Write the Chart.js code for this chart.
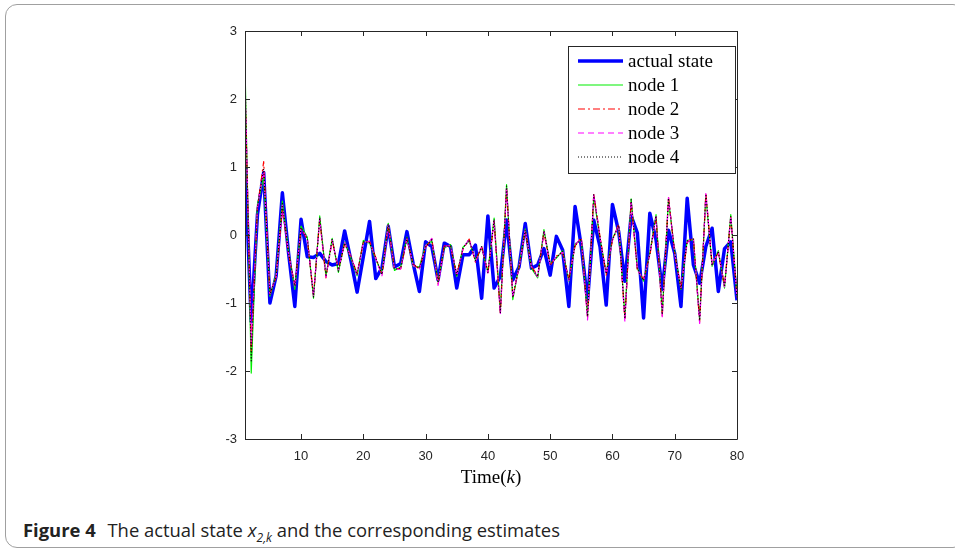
<!DOCTYPE html>
<html>
<head>
<meta charset="utf-8">
<script src="https://cdn.jsdelivr.net/npm/chart.js@4/dist/chart.umd.min.js"></script>
<style>
  html, body { margin: 0; padding: 0; background: #fff; }
  body { width: 955px; height: 555px; position: relative; overflow: hidden; }
  #frame { position: absolute; left: 5px; top: 4px; width: 960px; height: 544px;
           border: 1px solid #a0a0a0; border-radius: 12px; box-sizing: border-box; }
  #chart { position: absolute; left: 0; top: 0; }
  #caption { position: absolute; left: 23px; top: 517px; font-family: "Open Sans", "Noto Sans", sans-serif;
             font-size: 18.4px; color: #222; white-space: nowrap; }
  #caption b { font-weight: 700; margin-right: 7px; }
  #caption i sub { font-size: 12px; }
</style>
</head>
<body>
<div id="frame"></div>
<canvas id="chart" width="955" height="490"></canvas>
<div id="caption"><b>Figure 4</b> The actual state <i>x<sub>2,k</sub></i> and the corresponding estimates</div>
<script>
const timeK = [1,2,3,4,5,6,7,8,9,10,11,12,13,14,15,16,17,18,19,20,
  21,22,23,24,25,26,27,28,29,30,31,32,33,34,35,36,37,38,39,40,
  41,42,43,44,45,46,47,48,49,50,51,52,53,54,55,56,57,58,59,60,
  61,62,63,64,65,66,67,68,69,70,71,72,73,74,75,76,77,78,79,80];
const xTickValues = [10,20,30,40,50,60,70,80];
const yTickValues = [-3,-2,-1,0,1,2,3];

const actualState = [1.08,-1.27,0.3,0.92,-1.0,-0.6,0.62,-0.27,-1.05,0.23,
  -0.32,-0.33,-0.27,-0.39,-0.44,-0.42,0.06,-0.37,-0.84,-0.32,
  0.2,-0.64,-0.48,0.13,-0.47,-0.42,0.05,-0.42,-0.83,-0.1,
  -0.17,-0.66,-0.12,-0.17,-0.78,-0.29,-0.29,-0.15,-0.93,0.28,
  -0.78,-0.61,0.22,-0.66,-0.47,0.17,-0.49,-0.44,-0.2,-0.59,
  -0.02,-0.22,-1.05,0.42,-0.17,-0.97,0.22,-0.17,-1.03,0.45,
  0.05,-0.68,0.28,0.03,-1.22,0.32,-0.07,-0.8,0.07,-0.27,
  -1.05,0.54,-0.44,-0.71,-0.17,0.1,-0.83,-0.2,-0.1,-0.96];

const node1 = [2.5,-2.03,0.45,0.85,-0.9,-0.58,0.5,-0.25,-0.8,0.13,
  -0.03,-0.93,0.28,-0.6,-0.05,-0.55,-0.1,-0.34,-0.6,-0.08,
  -0.12,-0.36,-0.56,0.17,-0.52,-0.47,-0.03,-0.46,-0.47,-0.15,
  -0.09,-0.69,-0.19,-0.14,-0.61,-0.18,-0.09,-0.37,-0.19,-0.54,
  0.25,-1.12,0.74,-0.95,-0.45,0.09,-0.49,-0.63,0.08,-0.42,
  -0.34,-0.23,-0.68,-0.13,-0.07,-1.18,0.56,-0.05,-0.56,-0.05,
  0.13,-1.2,0.53,-0.49,-0.68,-0.27,0.3,-1.15,0.52,-0.25,
  -0.8,-0.08,-0.07,-1.24,0.58,-0.46,-0.23,-0.78,0.3,-0.89];

const node2 = [2.2,-1.7,0.4,1.08,-0.86,-0.62,0.38,-0.28,-0.74,0.09,
  -0.06,-0.88,0.23,-0.63,-0.08,-0.5,-0.13,-0.31,-0.57,-0.11,
  -0.09,-0.33,-0.59,0.14,-0.49,-0.5,-0.06,-0.43,-0.5,-0.18,
  -0.06,-0.72,-0.16,-0.17,-0.58,-0.21,-0.06,-0.4,-0.16,-0.57,
  0.2,-1.16,0.69,-0.9,-0.48,0.06,-0.46,-0.6,0.04,-0.45,
  -0.31,-0.26,-0.65,-0.16,-0.04,-1.21,0.61,-0.02,-0.59,-0.08,
  0.16,-1.25,0.5,-0.52,-0.65,-0.3,0.26,-1.19,0.56,-0.28,
  -0.77,-0.11,-0.04,-1.28,0.62,-0.43,-0.26,-0.75,0.26,-0.92];

const node3 = [2.3,-1.6,0.41,0.95,-0.87,-0.61,0.44,-0.27,-0.77,0.1,
  -0.04,-0.9,0.24,-0.62,-0.07,-0.52,-0.11,-0.32,-0.58,-0.1,
  -0.1,-0.35,-0.6,0.15,-0.51,-0.5,-0.05,-0.45,-0.5,-0.16,
  -0.05,-0.74,-0.17,-0.15,-0.6,-0.2,-0.06,-0.39,-0.18,-0.56,
  0.21,-1.17,0.7,-0.92,-0.47,0.08,-0.47,-0.62,0.05,-0.44,
  -0.32,-0.25,-0.67,-0.14,-0.05,-1.25,0.6,-0.03,-0.58,-0.07,
  0.15,-1.28,0.51,-0.51,-0.66,-0.29,0.27,-1.2,0.55,-0.27,
  -0.78,-0.1,-0.05,-1.3,0.61,-0.44,-0.25,-0.77,0.28,-0.91];

const node4 = [2.35,-1.85,0.42,0.97,-0.88,-0.6,0.46,-0.26,-0.75,0.11,
  -0.05,-0.91,0.26,-0.61,-0.06,-0.53,-0.12,-0.33,-0.58,-0.1,
  -0.11,-0.34,-0.58,0.16,-0.5,-0.49,-0.04,-0.44,-0.49,-0.17,
  -0.07,-0.7,-0.17,-0.16,-0.59,-0.19,-0.07,-0.38,-0.17,-0.55,
  0.23,-1.14,0.72,-0.92,-0.46,0.07,-0.48,-0.61,0.06,-0.43,
  -0.33,-0.24,-0.66,-0.15,-0.06,-1.2,0.59,-0.04,-0.57,-0.07,
  0.14,-1.23,0.52,-0.5,-0.67,-0.28,0.28,-1.17,0.54,-0.26,
  -0.79,-0.09,-0.06,-1.26,0.6,-0.45,-0.24,-0.76,0.27,-0.9];

const seriesNames = ['actual state','node 1','node 2','node 3','node 4'];

const toPts = arr => arr.map((v, i) => ({ x: timeK[i], y: v }));

const AXIS_COLOR = '#262626';

const framePlugin = {
  id: 'matlabFrame',
  afterDatasetsDraw(chart) {
    const { ctx, chartArea: a, scales } = chart;
    const xs = scales.x, ys = scales.y;
    ctx.save();
    ctx.strokeStyle = AXIS_COLOR;
    ctx.lineWidth = 1;
    ctx.beginPath();
    ctx.rect(Math.round(a.left) + 0.5, Math.round(a.top) + 0.5,
             Math.round(a.right - a.left), Math.round(a.bottom - a.top));
    ctx.stroke();
    const tl = 5;
    ctx.beginPath();
    xTickValues.forEach(v => {
      const px = Math.round(xs.getPixelForValue(v)) + 0.5;
      ctx.moveTo(px, a.bottom); ctx.lineTo(px, a.bottom - tl);
      ctx.moveTo(px, a.top); ctx.lineTo(px, a.top + tl);
    });
    yTickValues.forEach(v => {
      const py = Math.round(ys.getPixelForValue(v)) + 0.5;
      ctx.moveTo(a.left, py); ctx.lineTo(a.left + tl, py);
      ctx.moveTo(a.right, py); ctx.lineTo(a.right - tl, py);
    });
    ctx.stroke();

    // x axis title "Time(k)" with italic k
    const cx = (a.left + a.right) / 2;
    const ty = 483;
    ctx.fillStyle = '#000';
    ctx.textBaseline = 'alphabetic';
    const f1 = '19px "Liberation Serif", "DejaVu Serif", serif';
    const f2 = 'italic 19px "Liberation Serif", "DejaVu Serif", serif';
    const parts = [['Time(', f1], ['k', f2], [')', f1]];
    let total = 0;
    parts.forEach(p => { ctx.font = p[1]; total += ctx.measureText(p[0]).width; });
    let x0 = cx - total / 2;
    ctx.textAlign = 'left';
    parts.forEach(p => { ctx.font = p[1]; ctx.fillText(p[0], x0, ty); x0 += ctx.measureText(p[0]).width; });

    // legend
    const lx = 568, ly = 46, lw = 167, lh = 127;
    ctx.fillStyle = '#fff';
    ctx.fillRect(lx, ly, lw, lh);
    ctx.strokeStyle = AXIS_COLOR;
    ctx.lineWidth = 1;
    ctx.strokeRect(lx + 0.5, ly + 0.5, lw, lh);
    [0, 1, 2, 3, 4].forEach((di, row) => {
      const ds = chart.data.datasets[di];
      const yy = ly + 15 + row * 24;
      ctx.save();
      ctx.strokeStyle = ds.borderColor;
      ctx.lineWidth = ds.borderWidth;
      ctx.setLineDash(ds.borderDash || []);
      ctx.beginPath();
      ctx.moveTo(lx + 10, yy); ctx.lineTo(lx + 55, yy);
      ctx.stroke();
      ctx.restore();
      ctx.fillStyle = '#000';
      ctx.font = '19px "Liberation Serif", "DejaVu Serif", serif';
      ctx.textBaseline = 'middle';
      ctx.fillText(ds.label, lx + 60, yy + 1);
    });
    ctx.restore();
  }
};

new Chart(document.getElementById('chart'), {
  type: 'line',
  data: {
    datasets: [
      { label: seriesNames[0], data: toPts(actualState), borderColor: '#0000ff', borderWidth: 3.5, order: 5 },
      { label: seriesNames[1], data: toPts(node1), borderColor: '#00ee00', borderWidth: 1.2, order: 4 },
      { label: seriesNames[2], data: toPts(node2), borderColor: '#ff0000', borderWidth: 1.2, borderDash: [7, 3, 2, 3], order: 3 },
      { label: seriesNames[3], data: toPts(node3), borderColor: '#ff00ff', borderWidth: 1.2, borderDash: [6, 4], order: 2 },
      { label: seriesNames[4], data: toPts(node4), borderColor: '#000000', borderWidth: 1.2, borderDash: [1, 2], order: 1 }
    ]
  },
  options: {
    responsive: false,
    animation: false,
    devicePixelRatio: 1,
    layout: { padding: { left: 200, right: 218, top: 31, bottom: 0 } },
    elements: { point: { radius: 0 }, line: { tension: 0, fill: false, borderJoinStyle: 'round' } },
    plugins: { legend: { display: false }, tooltip: { enabled: false } },
    scales: {
      x: {
        type: 'linear', min: 1, max: 80,
        afterBuildTicks: s => { s.ticks = xTickValues.map(v => ({ value: v })); },
        afterFit: s => { s.height = 51; },
        grid: { display: false, drawTicks: false },
        border: { display: false },
        ticks: { padding: 10, color: AXIS_COLOR, font: { family: '"Liberation Sans", Arial, sans-serif', size: 13 },
                 maxRotation: 0, autoSkip: false, callback: v => String(v) }
      },
      y: {
        type: 'linear', min: -3, max: 3,
        afterBuildTicks: s => { s.ticks = yTickValues.map(v => ({ value: v })); },
        afterFit: s => { s.width = 45; },
        grid: { display: false, drawTicks: false },
        border: { display: false },
        ticks: { padding: 8, color: AXIS_COLOR, font: { family: '"Liberation Sans", Arial, sans-serif', size: 13 },
                 autoSkip: false, callback: v => String(v) }
      }
    }
  },
  plugins: [framePlugin]
});
</script>
</body>
</html>
